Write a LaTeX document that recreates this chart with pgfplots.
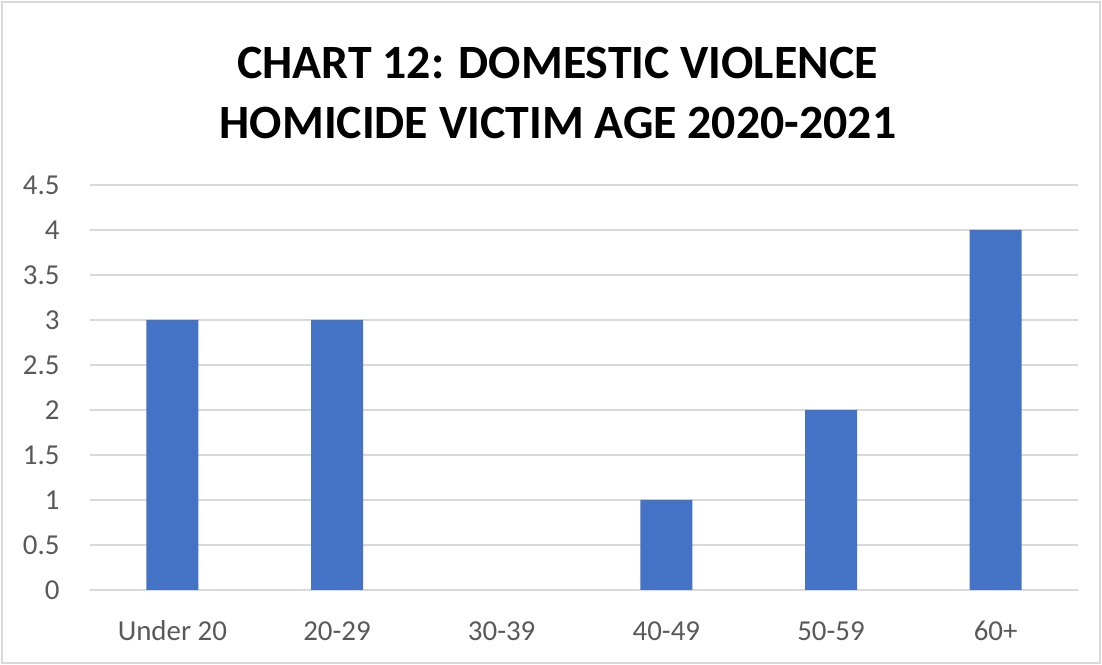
\documentclass[border=0pt]{standalone}
\usepackage{fontspec}
\setmainfont{Carlito}
\usepackage{pgfplots}
\pgfplotsset{compat=1.18}
\definecolor{barblue}{HTML}{4472C4}
\definecolor{gridgray}{HTML}{D9D9D9}
\definecolor{ticktext}{HTML}{595959}
\begin{document}
\begin{tikzpicture}[x=1bp,y=1bp]
\path[use as bounding box] (0,0) rectangle (1102,665);
\draw[gridgray, line width=1.5bp] (2,2) rectangle (1100,663);
\node[anchor=base, font=\fontsize{48}{58}\selectfont\bfseries, text=black] at (557.5,586) {CHART 12: DOMESTIC VIOLENCE};
\node[anchor=base, font=\fontsize{48}{58}\selectfont\bfseries, text=black] at (558,526) {HOMICIDE VICTIM AGE 2020-2021};
\begin{axis}[
  at={(90bp,75bp)}, anchor=south west,
  scale only axis, width=988bp, height=405bp,
  xmin=-0.5, xmax=5.5, ymin=0, ymax=4.5,
  xtick={0,1,2,3,4,5},
  xticklabels={Under 20,20-29,30-39,40-49,50-59,60+},
  ytick={0,0.5,1,1.5,2,2.5,3,3.5,4,4.5},
  yticklabels={0,0.5,1,1.5,2,2.5,3,3.5,4,4.5},
  major tick length=0pt,
  ymajorgrids, grid style={gridgray, line width=1.5bp},
  axis x line*=bottom, axis y line*=left,
  x axis line style={gridgray, line width=1.5bp, -},
  y axis line style={draw=none},
  xticklabel style={anchor=base, yshift=-51bp, font=\fontsize{29}{34}\selectfont, text=ticktext},
  yticklabel style={anchor=base east, xshift=-27bp, yshift=-9.3bp, font=\fontsize{29}{34}\selectfont, text=ticktext},
  ybar, bar width=52bp,
]
\addplot[fill=barblue, draw=none] coordinates {(0,3) (1,3) (3,1) (4,2) (5,4)};
\end{axis}
\end{tikzpicture}
\end{document}
